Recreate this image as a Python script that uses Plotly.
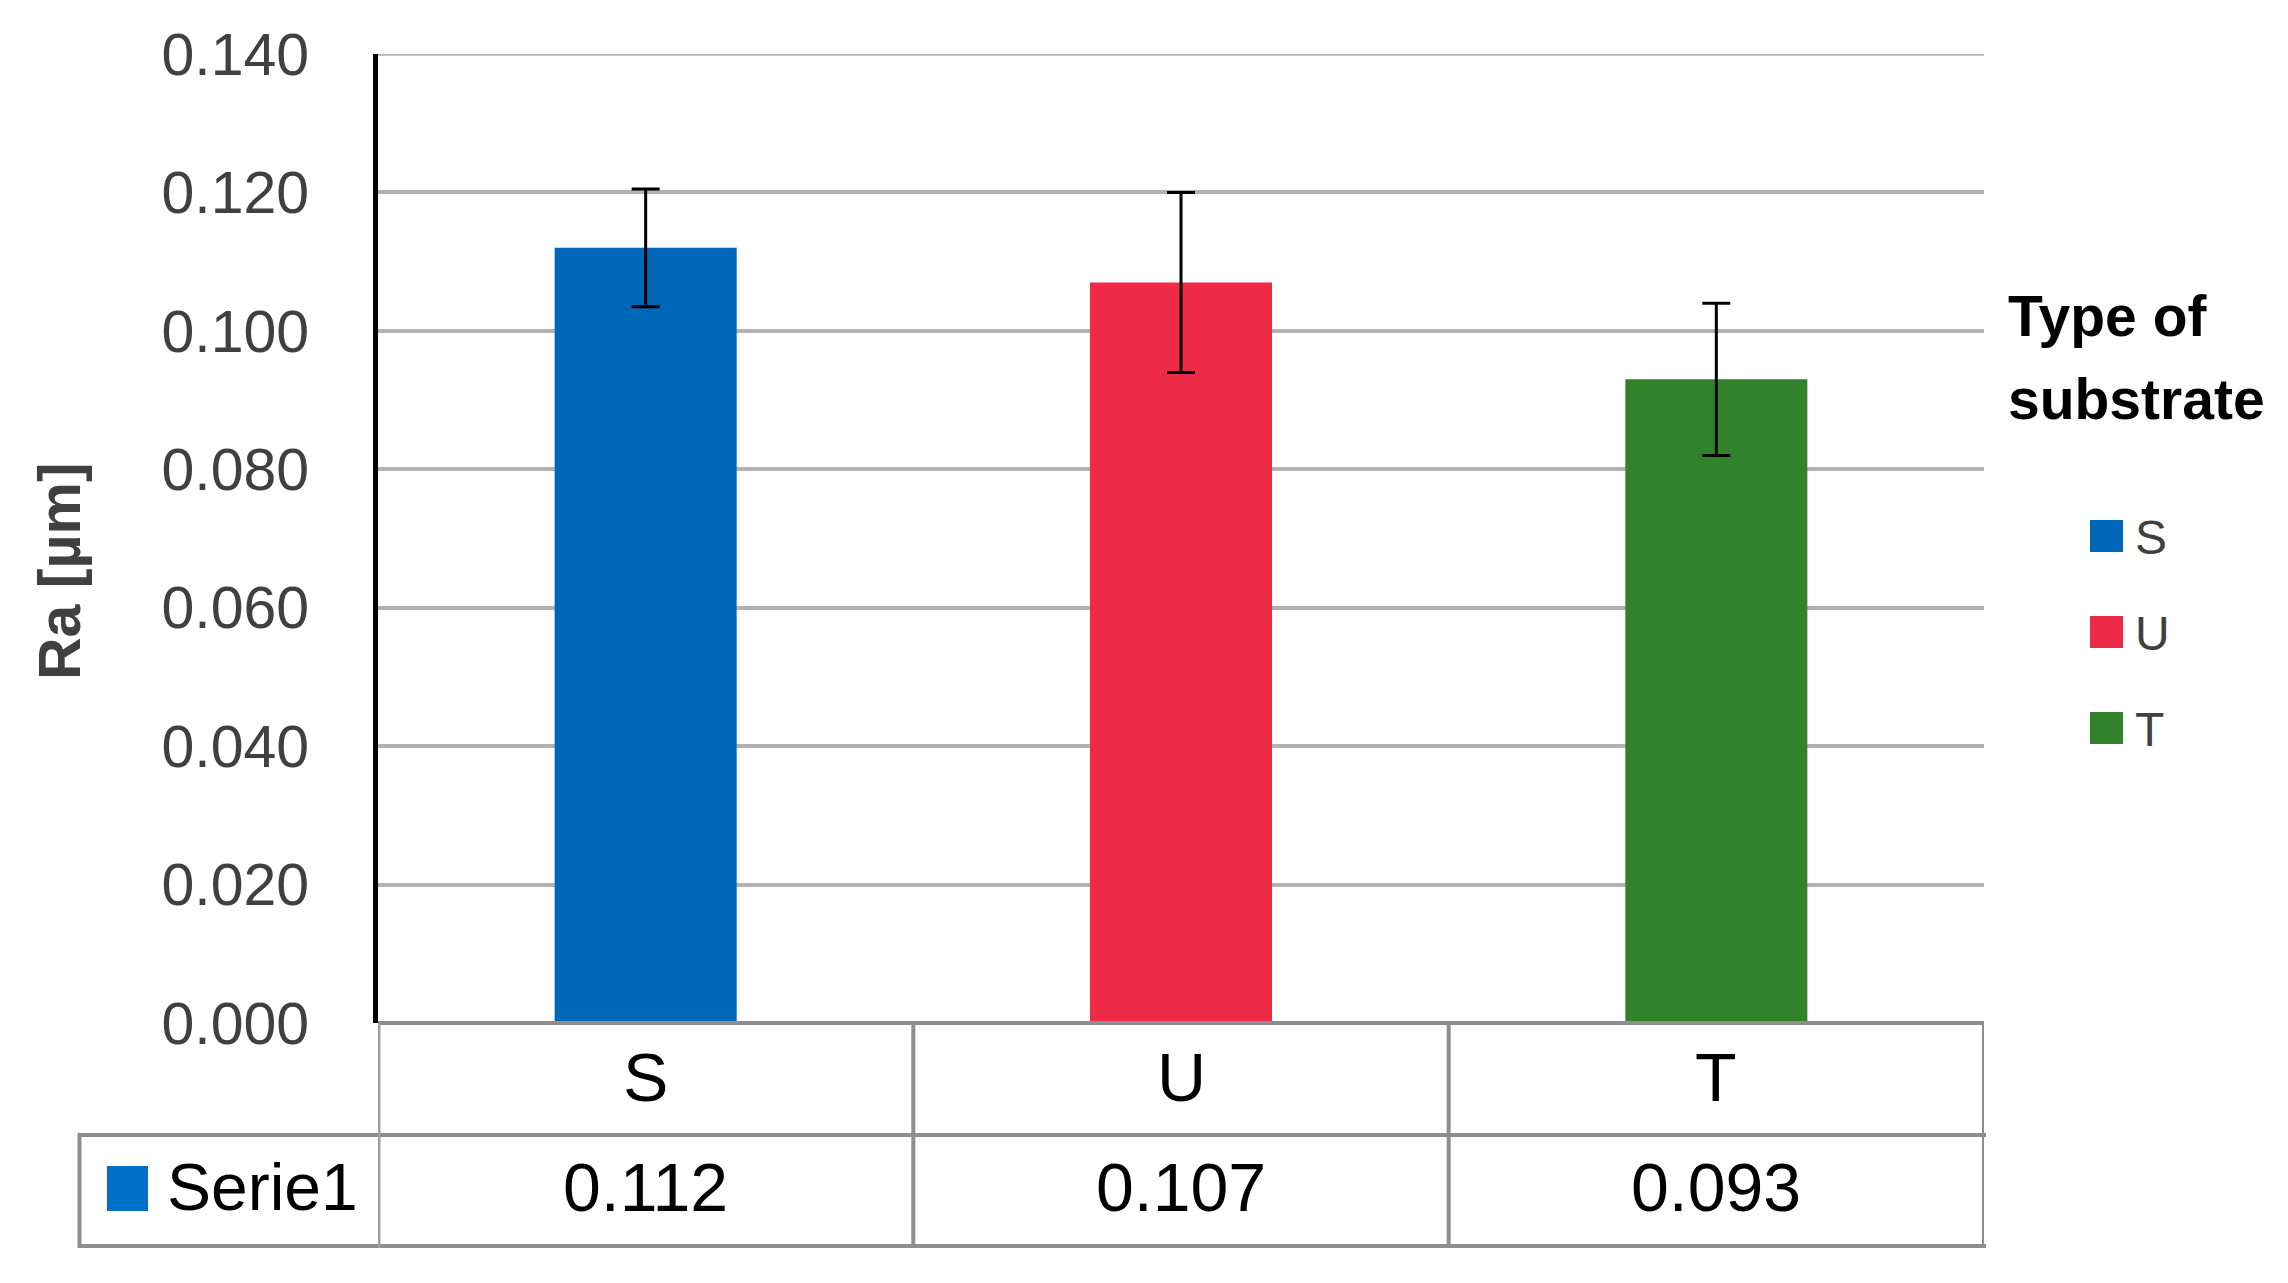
import plotly.graph_objects as go

categories = ["S", "U", "T"]
ra_values = [0.112, 0.107, 0.093]
ra_errors = [0.0085, 0.013, 0.011]
bar_colors = ["#0066B8", "#EE2B46", "#31822B"]
series_name = "Serie1"
series_color = "#0070C8"
y_ticks = [0.0, 0.02, 0.04, 0.06, 0.08, 0.10, 0.12, 0.14]

W, H = 2288, 1283
L, R, T, B = 378, 1984, 54, 1023
pw, ph = R - L, B - T

def px_x(X):
    return (X - L) / pw

def px_y(Y):
    return (B - Y) / ph

fig = go.Figure()
for cat, val, err, col in zip(categories, ra_values, ra_errors, bar_colors):
    fig.add_trace(go.Bar(
        x=[cat], y=[val], name=cat, width=0.34,
        marker=dict(color=col, line=dict(width=0)),
        error_y=dict(type="data", array=[err], visible=True,
                     color="black", thickness=3, width=14),
        showlegend=False,
    ))

grid_col = "#8E8E8E"
shapes = []
# top gridline at the range maximum
shapes.append(dict(type="line", xref="paper", yref="y", x0=0, x1=1,
                   y0=y_ticks[-1], y1=y_ticks[-1], line=dict(color="#B2B2B2", width=3.5),
                   layer="below"))
# table lines
shapes.append(dict(type="line", xref="paper", yref="paper", x0=0, x1=1,
                   y0=0, y1=0, line=dict(color=grid_col, width=4)))
for Y in [1135, 1246]:
    shapes.append(dict(type="line", xref="paper", yref="paper", x0=px_x(79.5), x1=px_x(1986),
                       y0=px_y(Y), y1=px_y(Y), line=dict(color=grid_col, width=4)))
for xd in [0.5, 1.5, 2.5]:
    shapes.append(dict(type="line", xref="x", yref="paper", x0=xd, x1=xd,
                       y0=0, y1=px_y(1248), line=dict(color=grid_col, width=4)))
shapes.append(dict(type="line", xref="x", yref="paper", x0=-0.5, x1=-0.5,
                   y0=0, y1=px_y(1248), line=dict(color="#A0A0A0", width=5)))
shapes.append(dict(type="line", xref="paper", yref="paper", x0=px_x(79.5), x1=px_x(79.5),
                   y0=px_y(1133), y1=px_y(1248), line=dict(color=grid_col, width=4)))
# series key in table
shapes.append(dict(type="rect", xref="paper", yref="paper", x0=px_x(107), x1=px_x(148),
                   y0=px_y(1211), y1=px_y(1166), fillcolor=series_color, line=dict(width=0)))

annotations = []
for cat, val in zip(categories, ra_values):
    annotations.append(dict(x=cat, xref="x", y=px_y(1077), yref="paper", text=cat,
                            showarrow=False, font=dict(size=68, color="black"),
                            xanchor="center", yanchor="middle"))
    annotations.append(dict(x=cat, xref="x", y=px_y(1187), yref="paper", text=f"{val:.3f}",
                            showarrow=False, font=dict(size=68, color="black"),
                            xanchor="center", yanchor="middle"))
annotations.append(dict(x=px_x(165), xref="paper", y=px_y(1187), yref="paper", text=series_name,
                        showarrow=False, font=dict(size=66, color="black"),
                        xanchor="left", yanchor="middle"))
# y axis title
annotations.append(dict(x=px_x(60), xref="paper", y=px_y(571), yref="paper", text="<b>Ra [µm]</b>",
                        showarrow=False, textangle=-90, font=dict(size=59, color="#404040"),
                        xanchor="center", yanchor="middle"))
# legend (manual)
annotations.append(dict(x=px_x(2006), xref="paper", y=px_y(316), yref="paper", text="<b>Type of</b>",
                        showarrow=False, font=dict(size=57, color="black"),
                        xanchor="left", yanchor="middle"))
annotations.append(dict(x=px_x(2006), xref="paper", y=px_y(399), yref="paper", text="<b>substrate</b>",
                        showarrow=False, font=dict(size=57, color="black"),
                        xanchor="left", yanchor="middle"))
legend_centers = [536, 632, 728]
for cat, col, Yc in zip(categories, bar_colors, legend_centers):
    shapes.append(dict(type="rect", xref="paper", yref="paper", x0=px_x(2090), x1=px_x(2123),
                       y0=px_y(Yc + 16), y1=px_y(Yc - 16), fillcolor=col, line=dict(width=0)))
    annotations.append(dict(x=px_x(2133), xref="paper", y=px_y(Yc + 1), yref="paper", text=cat,
                            showarrow=False, font=dict(size=48, color="#404040"),
                            xanchor="left", yanchor="middle"))

fig.update_layout(
    width=W, height=H, autosize=False,
    margin=dict(l=L, r=W - R, t=T, b=H - B, pad=0),
    paper_bgcolor="white", plot_bgcolor="white",
    font=dict(family="Liberation Sans", color="#404040"),
    barmode="overlay",
    showlegend=False,
    shapes=shapes, annotations=annotations,
    xaxis=dict(type="category", categoryorder="array", categoryarray=categories,
               range=[-0.5, 2.5], showticklabels=False, showgrid=False,
               showline=False, zeroline=False, ticks=""),
    yaxis=dict(range=[0, 0.14], tickvals=y_ticks, tickformat=".3f",
               showgrid=True, gridcolor="#B2B2B2", gridwidth=3.5,
               zeroline=False, showline=True, linecolor="black", linewidth=5,
               ticks="", ticklabelstandoff=52,
               tickfont=dict(size=59, color="#404040")),
)

fig.write_html("out.html", config={"displayModeBar": False},
               post_script="document.body.style.margin='0px';")
